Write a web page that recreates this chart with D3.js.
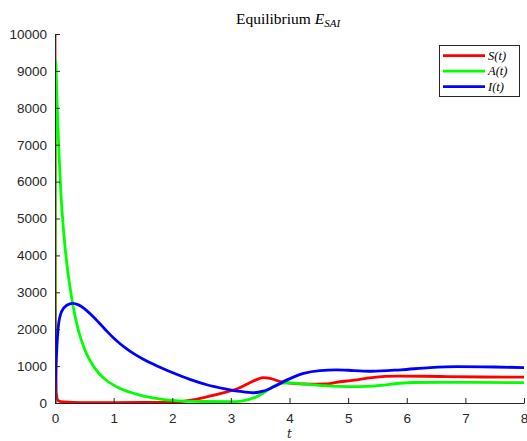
<!DOCTYPE html>
<html>
<head>
<meta charset="utf-8">
<script src="https://cdn.jsdelivr.net/npm/d3@7"></script>
<style>
  html, body { margin: 0; padding: 0; background: #fff; }
  svg { display: block; }
</style>
</head>
<body>
<svg id="chart" width="527" height="441"></svg>
<script>
// Time samples and values for each compartment
const tS = [0, 0.005, 0.02, 0.05, 0.1, 0.3, 0.6, 1.0, 1.5, 2.0, 2.3, 2.6, 2.9, 3.1, 3.3, 3.45, 3.55, 3.67, 3.84, 4.0, 4.35, 4.6, 4.8, 5.1, 5.4, 5.83, 6.3, 6.7, 7.3, 8.0];
const S  = [10000, 3000, 300, 70, 35, 18, 12, 12, 15, 25, 70, 170, 290, 380, 530, 640, 690, 670, 580, 540, 510, 515, 560, 620, 690, 730, 725, 715, 705, 700];

const tA = [0, 0.003, 0.01, 0.03, 0.05, 0.07, 0.1, 0.15, 0.2, 0.25, 0.3, 0.4, 0.5, 0.6, 0.75, 0.88, 1.1, 1.45, 1.75, 2.0, 2.5, 3.0, 3.2, 3.44, 3.6, 3.72, 3.84, 4.0, 4.24, 4.6, 5.0, 5.4, 6.1, 7.0, 8.0];
const A  = [0, 5000, 9300, 8400, 7500, 6700, 5700, 4600, 3800, 3200, 2700, 1960, 1480, 1140, 800, 610, 400, 215, 120, 70, 40, 35, 60, 170, 320, 440, 530, 545, 515, 470, 445, 460, 555, 560, 550];

const tI = [0, 0.01, 0.03, 0.056, 0.11, 0.2, 0.3, 0.4, 0.5, 0.6, 0.7, 0.8, 0.9, 1.0, 1.1, 1.2, 1.35, 1.5, 1.75, 2.0, 2.3, 2.59, 2.9, 3.16, 3.38, 3.55, 3.73, 3.95, 4.24, 4.52, 4.8, 5.1, 5.4, 5.9, 6.4, 6.86, 7.5, 8.0];
const I  = [0, 700, 1440, 2070, 2470, 2650, 2700, 2660, 2560, 2420, 2260, 2090, 1920, 1760, 1620, 1495, 1330, 1190, 995, 825, 640, 495, 385, 312, 278, 320, 440, 620, 805, 880, 900, 880, 860, 900, 960, 985, 975, 960];

const xTicks = [0, 1, 2, 3, 4, 5, 6, 7, 8];
const yTicks = [0, 1000, 2000, 3000, 4000, 5000, 6000, 7000, 8000, 9000, 10000];

const seriesNames = ["S(t)", "A(t)", "I(t)"];
const seriesColors = ["#ff0000", "#00ff00", "#0000ff"];

const series = [
  { name: seriesNames[0], color: seriesColors[0], pts: tS.map((t, i) => [t, S[i]]) },
  { name: seriesNames[1], color: seriesColors[1], pts: tA.map((t, i) => [t, A[i]]) },
  { name: seriesNames[2], color: seriesColors[2], pts: tI.map((t, i) => [t, I[i]]) }
];

const svg = d3.select("#chart");
const plot = { left: 55, right: 524, top: 34, bottom: 403 };

const x = d3.scaleLinear().domain([0, 8]).range([plot.left, plot.right]);
const y = d3.scaleLinear().domain([0, 10000]).range([plot.bottom, plot.top]);

const axisColor = "#262626";
const tickFont = "'Liberation Sans', Arial, sans-serif";

// Clip curves to the axes area
svg.append("defs").append("clipPath").attr("id", "plotclip")
  .append("rect")
  .attr("x", plot.left).attr("y", plot.top - 2)
  .attr("width", plot.right - plot.left + 2).attr("height", plot.bottom - plot.top + 4);

const line = d3.line()
  .x(d => x(d[0]))
  .y(d => y(d[1]))
  .curve(d3.curveMonotoneX);

const curves = svg.append("g").attr("clip-path", "url(#plotclip)");
series.forEach(s => {
  curves.append("path")
    .datum(s.pts)
    .attr("fill", "none")
    .attr("stroke", s.color)
    .attr("stroke-width", 2.8)
    .attr("stroke-linejoin", "round")
    .attr("d", line);
});

// Bottom axis (ticks point into the plot)
const xAxis = svg.append("g")
  .attr("transform", `translate(0,${plot.bottom})`)
  .call(d3.axisBottom(x).tickValues(xTicks).tickFormat(d3.format("d")).tickSizeInner(-5).tickSizeOuter(0).tickPadding(10));
xAxis.select(".domain").attr("stroke", axisColor);
xAxis.selectAll(".tick line").attr("stroke", axisColor);
xAxis.selectAll(".tick text")
  .attr("fill", axisColor)
  .style("font-family", tickFont)
  .style("font-size", "13.5px");

// Left axis
const yAxis = svg.append("g")
  .attr("transform", `translate(${plot.left},0)`)
  .call(d3.axisLeft(y).tickValues(yTicks).tickFormat(d3.format("d")).tickSizeInner(-5).tickSizeOuter(0).tickPadding(8));
yAxis.select(".domain").attr("stroke", axisColor);
yAxis.selectAll(".tick line").attr("stroke", axisColor);
yAxis.selectAll(".tick text")
  .attr("fill", axisColor)
  .style("font-family", tickFont)
  .style("font-size", "13.5px");

// x-axis label
svg.append("text")
  .attr("x", (plot.left + plot.right) / 2)
  .attr("y", 438)
  .attr("text-anchor", "middle")
  .style("font-family", "'DejaVu Serif', 'Liberation Serif', serif")
  .style("font-style", "italic")
  .style("font-size", "12px")
  .attr("fill", axisColor)
  .text("t");

// Title with subscript
const title = svg.append("text")
  .attr("x", 288)
  .attr("y", 24)
  .attr("text-anchor", "middle")
  .style("font-family", "'Liberation Serif', 'DejaVu Serif', serif")
  .style("font-size", "15.5px")
  .attr("fill", "#000");
title.append("tspan").text("Equilibrium ");
title.append("tspan").style("font-style", "italic").text("E");
title.append("tspan").style("font-style", "italic").style("font-size", "11px").attr("dy", 3).text("SAI");

// Legend
const legend = svg.append("g");
legend.append("rect")
  .attr("x", 439.5).attr("y", 45.5)
  .attr("width", 80).attr("height", 51)
  .attr("fill", "#fff")
  .attr("stroke", axisColor)
  .attr("stroke-width", 1);
series.forEach((s, i) => {
  const ry = 55.7 + i * 15.5;
  legend.append("line")
    .attr("x1", 443).attr("x2", 485)
    .attr("y1", ry).attr("y2", ry)
    .attr("stroke", s.color)
    .attr("stroke-width", 2.8);
  legend.append("text")
    .attr("x", 488).attr("y", ry + 4)
    .style("font-family", "'Liberation Serif', 'DejaVu Serif', serif")
    .style("font-style", "italic")
    .style("font-size", "12.5px")
    .attr("fill", "#000")
    .text(s.name);
});
</script>
</body>
</html>
